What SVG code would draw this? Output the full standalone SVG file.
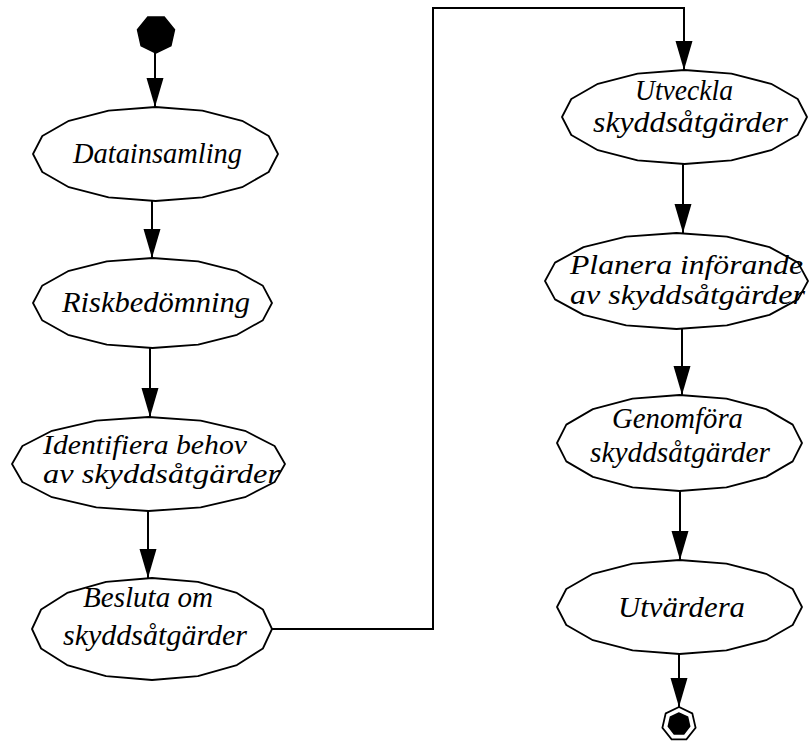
<svg xmlns="http://www.w3.org/2000/svg" width="809" height="742" viewBox="0 0 809 742">
  <style>
    .act { fill: #fff; stroke: #000; stroke-width: 1.8; stroke-linejoin: round; }
    .lbl { font-family: "Liberation Serif", "Times New Roman", serif; font-style: italic; font-size: 29px; fill: #000; }
    .tight { font-size: 27px; }
    .flow { fill: none; stroke: #000; stroke-width: 2; }
    .pseudo { fill: #000; stroke: #000; stroke-width: 1.5; }
    .ring { fill: #fff; stroke: #000; stroke-width: 1.8; }
  </style>
  <defs>
    <marker id="head" viewBox="0 -9 30 18" refX="29" refY="0" markerWidth="30" markerHeight="18" markerUnits="userSpaceOnUse" orient="auto">
      <path d="M0,-8.5 L29,0 L0,8.5 Z" fill="#000"/>
    </marker>
  </defs>

  <rect width="809" height="742" fill="#fff"/>

  <!-- connectors -->
  <g id="connectors">
    <line class="flow" x1="155" y1="53" x2="155" y2="107" marker-end="url(#head)"/>
    <line class="flow" x1="152" y1="201" x2="152" y2="258" marker-end="url(#head)"/>
    <line class="flow" x1="150" y1="348" x2="150" y2="417" marker-end="url(#head)"/>
    <line class="flow" x1="148" y1="511" x2="148" y2="578" marker-end="url(#head)"/>
    <polyline class="flow" points="272,629 433,629 433,8 684,8 684,70" marker-end="url(#head)"/>
    <line class="flow" x1="683" y1="164" x2="683" y2="233" marker-end="url(#head)"/>
    <line class="flow" x1="682" y1="329" x2="682" y2="395" marker-end="url(#head)"/>
    <line class="flow" x1="680" y1="491" x2="680" y2="560" marker-end="url(#head)"/>
    <line class="flow" x1="679" y1="654" x2="679" y2="707" marker-end="url(#head)"/>
  </g>

  <!-- initial state -->
  <g id="start">
    <polygon class="pseudo" points="156,53 141.1,45.8 137.5,29.8 147.8,16.9 164.2,16.9 174.5,29.8 170.9,45.8"/>
  </g>

  <g id="datainsamling">
    <polygon class="act" points="278,154 268.7,172 242.1,187.2 202.4,197.4 155.5,201 108.6,197.4 68.9,187.2 42.3,172 33,154 42.3,136 68.9,120.8 108.6,110.6 155.5,107 202.4,110.6 242.1,120.8 268.7,136"/>
    <text class="lbl" x="73" y="163" textLength="169" lengthAdjust="spacingAndGlyphs">Datainsamling</text>
  </g>

  <g id="riskbedomning">
    <polygon class="act" points="272,303 262.9,320.2 237,334.8 198.2,344.6 152.5,348 106.8,344.6 68,334.8 42.1,320.2 33,303 42.1,285.8 68,271.2 106.8,261.4 152.5,258 198.2,261.4 237,271.2 262.9,285.8"/>
    <text class="lbl" x="62" y="312" textLength="188" lengthAdjust="spacingAndGlyphs">Riskbedömning</text>
  </g>

  <g id="identifiera">
    <polygon class="act" points="285,464 274.6,482 245,497.2 200.7,507.4 148.5,511 96.3,507.4 52,497.2 22.4,482 12,464 22.4,446 52,430.8 96.3,420.6 148.5,417 200.7,420.6 245,430.8 274.6,446"/>
    <text class="lbl tight" x="43" y="454" textLength="204" lengthAdjust="spacingAndGlyphs">Identifiera behov</text>
    <text class="lbl tight" x="43" y="483" textLength="237" lengthAdjust="spacingAndGlyphs">av skyddsåtgärder</text>
  </g>

  <g id="besluta">
    <polygon class="act" points="272,629 262.9,648.5 236.9,665.1 197.9,676.1 152,680 106.1,676.1 67.1,665.1 41.1,648.5 32,629 41.1,609.5 67.1,592.9 106.1,581.9 152,578 197.9,581.9 236.9,592.9 262.9,609.5"/>
    <text class="lbl" x="83" y="607" textLength="130" lengthAdjust="spacingAndGlyphs">Besluta om</text>
    <text class="lbl" x="63" y="645" textLength="184" lengthAdjust="spacingAndGlyphs">skyddsåtgärder</text>
  </g>

  <g id="utveckla">
    <polygon class="act" points="807,117 797.7,135 771.1,150.2 731.4,160.4 684.5,164 637.6,160.4 597.9,150.2 571.3,135 562,117 571.3,99 597.9,83.8 637.6,73.6 684.5,70 731.4,73.6 771.1,83.8 797.7,99"/>
    <text class="lbl" x="635" y="100" textLength="98" lengthAdjust="spacingAndGlyphs">Utveckla</text>
    <text class="lbl" x="593" y="132" textLength="195" lengthAdjust="spacingAndGlyphs">skyddsåtgärder</text>
  </g>

  <g id="planera">
    <polygon class="act" points="808,281 798,299.4 769.5,314.9 726.8,325.3 676.5,329 626.2,325.3 583.5,314.9 555,299.4 545,281 555,262.6 583.5,247.1 626.2,236.7 676.5,233 726.8,236.7 769.5,247.1 798,262.6"/>
    <text class="lbl tight" x="570" y="274" textLength="233" lengthAdjust="spacingAndGlyphs">Planera införande</text>
    <text class="lbl tight" x="570" y="304" textLength="235" lengthAdjust="spacingAndGlyphs">av skyddsåtgärder</text>
  </g>

  <g id="genomfora">
    <polygon class="act" points="802,443 792.7,461.4 766.1,476.9 726.4,487.3 679.5,491 632.6,487.3 592.9,476.9 566.3,461.4 557,443 566.3,424.6 592.9,409.1 632.6,398.7 679.5,395 726.4,398.7 766.1,409.1 792.7,424.6"/>
    <text class="lbl" x="612" y="428" textLength="131" lengthAdjust="spacingAndGlyphs">Genomföra</text>
    <text class="lbl" x="590" y="462" textLength="180" lengthAdjust="spacingAndGlyphs">skyddsåtgärder</text>
  </g>

  <g id="utvardera">
    <polygon class="act" points="802,607 792.7,625 766.1,640.2 726.4,650.4 679.5,654 632.6,650.4 592.9,640.2 566.3,625 557,607 566.3,589 592.9,573.8 632.6,563.6 679.5,560 726.4,563.6 766.1,573.8 792.7,589"/>
    <text class="lbl" x="618" y="617" textLength="127" lengthAdjust="spacingAndGlyphs">Utvärdera</text>
  </g>

  <!-- final state -->
  <g id="end">
    <polygon class="ring" points="679,707 665.7,713.4 662.4,727.8 671.6,739.3 686.4,739.3 695.6,727.8 692.3,713.4"/>
    <polygon class="pseudo" points="679,713 670.4,717.1 668.3,726.4 674.2,733.9 683.8,733.9 689.7,726.4 687.6,717.1"/>
  </g>
</svg>
